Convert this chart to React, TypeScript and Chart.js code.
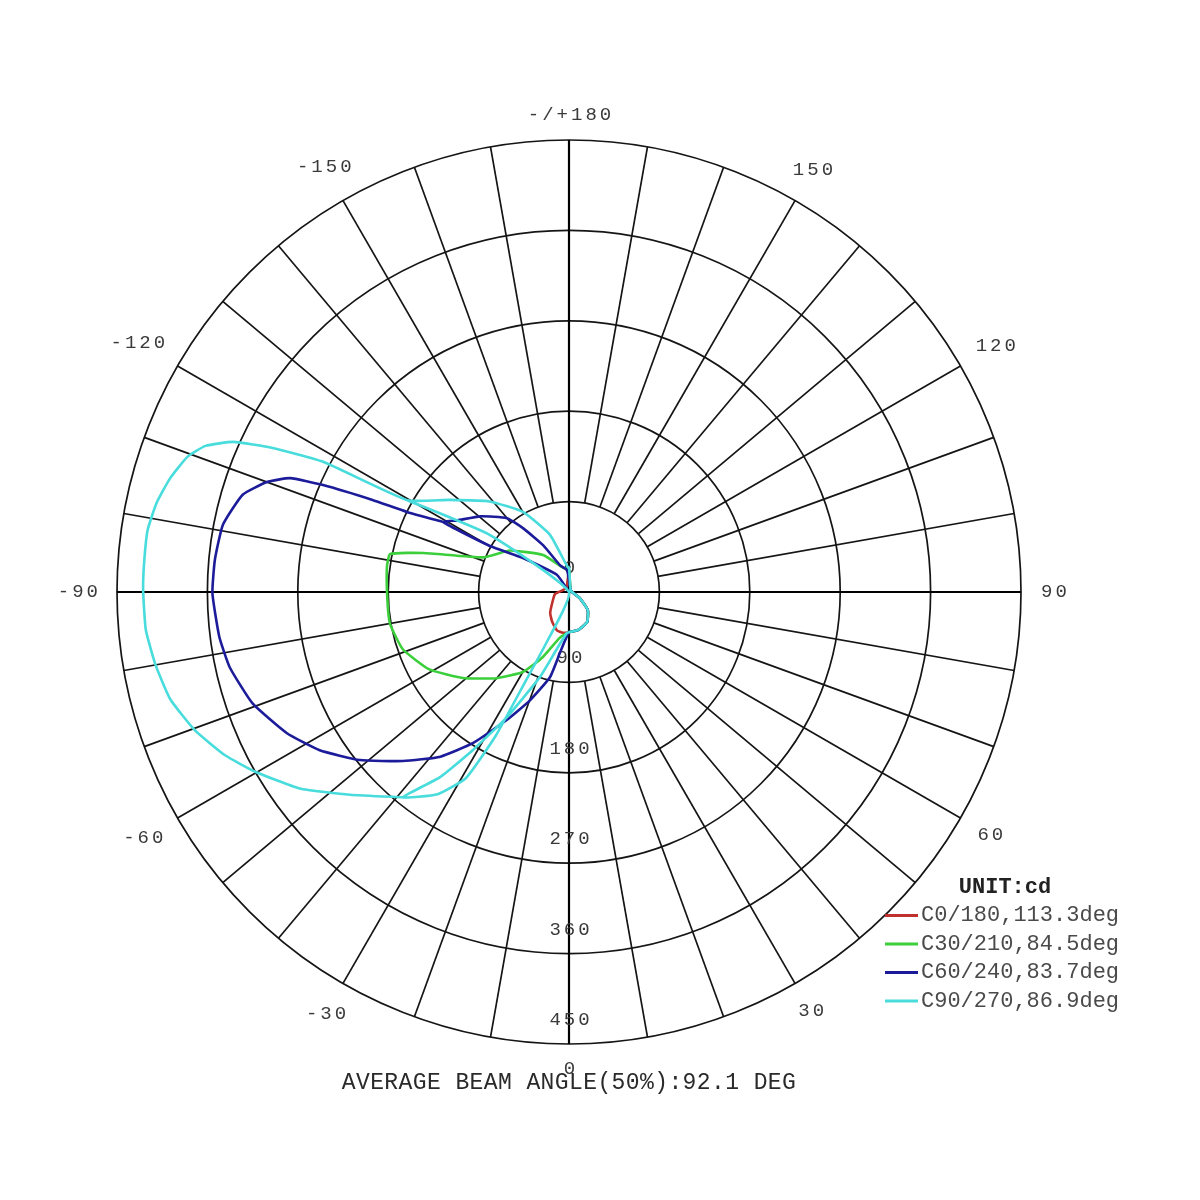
import React, { useEffect, useRef } from "react";
import { Chart, registerables } from "chart.js";

Chart.register(...registerables);

// ---- grid / axis definitions ----
const R_MAX = 450;
const RING_VALUES = [90, 180, 270, 360, 450];
const RING_LABEL_VALUES = [0, 90, 180, 270, 360, 450];
const RING_LABEL_TEXTS = ["0", "90", "180", "270", "360", "450"];
const SPOKE_STEP_DEG = 10;
const ANGLE_LABEL_ANGLES = [180, 150, 120, 90, 60, 30, 0, -30, -60, -90, -120, -150];
const ANGLE_LABEL_TEXTS = ["-/+180", "150", "120", "90", "60", "30", "0", "-30", "-60", "-90", "-120", "-150"];

// ---- legend / text ----
const SERIES_NAMES = ["C0/180,113.3deg", "C30/210,84.5deg", "C60/240,83.7deg", "C90/270,86.9deg"];
const SERIES_COLORS = ["#c0302c", "#3ccf3c", "#1c1c9a", "#48dcdc"];
const UNIT_TEXT = "UNIT:cd";
const FOOTER_TEXT = "AVERAGE BEAM ANGLE(50%):92.1 DEG";

// ---- series (angle in degrees, intensity in cd), in drawing order ----
const C0_ANGLES = [180, -150, -110, -82, -63, -42, -29.5, -17.5, -8.3, 0, 13, 31, 46, 61, 90, 150, 180];
const C0_VALUES = [22, 5, 6, 14, 18, 28, 34, 40, 41, 40, 39, 35, 26, 12, 3, 3, 22];

const C30_ANGLES = [180, -166, -145, -125, -112, -105, -102, -98, -88, -80, -71, -61, -51, -40, -30, -22, -11, 0, 13, 31, 46, 61, 90, 150, 180];
const C30_VALUES = [22, 25, 45, 72, 92, 150, 182, 183, 181, 181, 175, 159, 136, 112, 92, 70, 46, 40, 39, 35, 26, 12, 3, 3, 22];

const C60_ANGLES = [-145, -144.8, -126.5, -120.2, -119.1, -122.7, -130.5, -140, -144.3, -151.1, -161.6, -174.8, 150, 90, 61, 46, 31, 13, 0, -8.4, -12.6, -19.9, -25.8, -32.4, -38, -44.5, -51.2, -57.6, -63.4, -70.6, -77.5, -82.7, -89.8, -95.2, -101, -106.6, -110, -112.2, -113.5, -115.1, -116.3, -119.1];
const C60_VALUES = [0, 21, 57, 91, 143, 132, 116, 96, 78, 53, 28, 22, 3, 3, 12, 26, 35, 39, 40, 61, 87, 115, 141, 178, 208, 236, 267, 294, 314, 334, 346, 351, 355, 354, 351, 339, 320, 300, 267, 216, 180, 143];

const C90_ANGLES = [-119.6, -125.8, -140, -24, -26, -27, -29, -33, -39, -34.9, -31.3, -26.4, -18.8, -3, 13, 31, 46, 61, 90, 150, 180, -175.6, -161.6, -150.1, -138.7, -127.7, -119.6, -117.9, -115.9, -114.1, -111.9, -109.5, -105.9, -102.2, -98.4, -94.3, -90.3, -84.9, -80, -74.9, -69.7, -64.6, -60.2, -53.9, -47.2, -39];
const C90_VALUES = [185, 97, 0, 55, 100, 160, 212, 240, 263, 225, 184, 139, 89, 41, 39, 35, 26, 12, 3, 3, 24, 26, 60, 92, 120, 150, 185, 277, 328, 366, 390, 403, 413, 420, 424, 424, 424, 423, 418, 411, 397, 379, 360, 332, 297, 263];

const SERIES_ANGLES = [C0_ANGLES, C30_ANGLES, C60_ANGLES, C90_ANGLES];
const SERIES_VALUES = [C0_VALUES, C30_VALUES, C60_VALUES, C90_VALUES];

const FONT = "'Liberation Mono', 'DejaVu Sans Mono', monospace";
const TEXT_COLOR = "#3a3a3a";
const GRID_COLOR = "#151515";

const toRad = (d: number) => (d * Math.PI) / 180;

function toPoints(angles: number[], values: number[]) {
  return angles.map((a, i) => ({
    x: values[i] * Math.sin(toRad(a)),
    y: -values[i] * Math.cos(toRad(a)),
  }));
}

const polarPlugin = {
  id: "polarGrid",
  beforeDatasetsDraw(chart: any) {
    const { ctx } = chart;
    const xs = chart.scales.x;
    const ys = chart.scales.y;
    const cx = xs.getPixelForValue(0);
    const cy = ys.getPixelForValue(0);
    const rp = (v: number) => xs.getPixelForValue(v) - cx;
    ctx.save();
    ctx.strokeStyle = GRID_COLOR;
    ctx.lineWidth = 1.7;
    RING_VALUES.forEach((v) => {
      ctx.beginPath();
      ctx.arc(cx, cy, rp(v), 0, Math.PI * 2);
      ctx.stroke();
    });
    const r0 = rp(RING_VALUES[0]);
    const r1 = rp(R_MAX);
    for (let a = 0; a < 360; a += SPOKE_STEP_DEG) {
      if (a % 90 === 0) continue;
      const s = Math.sin(toRad(a));
      const c = Math.cos(toRad(a));
      ctx.beginPath();
      ctx.moveTo(cx + r0 * s, cy + r0 * c);
      ctx.lineTo(cx + r1 * s, cy + r1 * c);
      ctx.stroke();
    }
    ctx.strokeStyle = "#000";
    ctx.lineWidth = 2.2;
    ctx.beginPath();
    ctx.moveTo(cx - r1, cy);
    ctx.lineTo(cx + r1, cy);
    ctx.moveTo(cx, cy - r1);
    ctx.lineTo(cx, cy + r1);
    ctx.stroke();

    // radial tick labels along the lower vertical axis
    ctx.fillStyle = TEXT_COLOR;
    ctx.font = `19px ${FONT}`;
    (ctx as any).letterSpacing = "3px";
    ctx.textAlign = "center";
    ctx.textBaseline = "middle";
    RING_LABEL_VALUES.forEach((v, i) => {
      const yy = ys.getPixelForValue(-v) - 24;
      ctx.fillText(RING_LABEL_TEXTS[i], cx + 2, yy);
    });
    ctx.restore();
  },
  afterDatasetsDraw(chart: any) {
    const { ctx } = chart;
    const xs = chart.scales.x;
    const ys = chart.scales.y;
    const cx = xs.getPixelForValue(0);
    const cy = ys.getPixelForValue(0);
    const r1 = xs.getPixelForValue(R_MAX) - cx;
    ctx.save();
    ctx.fillStyle = TEXT_COLOR;
    ctx.font = `19px ${FONT}`;
    (ctx as any).letterSpacing = "3px";
    ctx.textAlign = "center";
    ctx.textBaseline = "middle";
    ANGLE_LABEL_ANGLES.forEach((a, i) => {
      const txt = ANGLE_LABEL_TEXTS[i];
      const w = ctx.measureText(txt).width;
      const s = Math.sin(toRad(a));
      const c = Math.cos(toRad(a));
      const ext = Math.abs(s) * (w / 2) + Math.abs(c) * 7;
      const d = r1 + 18 + ext;
      ctx.fillText(txt, cx + d * s + 2, cy + d * c);
    });

    // footer
    const bottom = ys.getPixelForValue(-R_MAX);
    ctx.font = `23px ${FONT}`;
    (ctx as any).letterSpacing = "0.4px";
    ctx.fillStyle = "#2a2a2a";
    ctx.fillText(FOOTER_TEXT, cx, bottom + 39);

    // legend
    const lx = 885;
    const ly = 887;
    ctx.font = `bold 22px ${FONT}`;
    (ctx as any).letterSpacing = "0px";
    ctx.fillStyle = "#222";
    ctx.textAlign = "center";
    ctx.fillText(UNIT_TEXT, 1005, ly);
    ctx.font = `22px ${FONT}`;
    ctx.textAlign = "left";
    SERIES_NAMES.forEach((name, i) => {
      const yy = ly + 28.5 * (i + 1);
      ctx.strokeStyle = SERIES_COLORS[i];
      ctx.lineWidth = 3;
      ctx.beginPath();
      ctx.moveTo(lx, yy);
      ctx.lineTo(lx + 33, yy);
      ctx.stroke();
      ctx.fillStyle = "#4a4a4a";
      ctx.fillText(name, lx + 36, yy);
    });
    ctx.restore();
  },
};

export default function App() {
  const canvasRef = useRef<HTMLCanvasElement | null>(null);

  useEffect(() => {
    if (!canvasRef.current) return;
    const datasets = SERIES_NAMES.map((name, i) => ({
      label: name,
      data: toPoints(SERIES_ANGLES[i], SERIES_VALUES[i]),
      showLine: true,
      borderColor: SERIES_COLORS[i],
      backgroundColor: SERIES_COLORS[i],
      borderWidth: 2.6,
      pointRadius: 0,
      tension: 0.15,
      fill: false,
      order: SERIES_NAMES.length - i,
    }));
    const chart = new Chart(canvasRef.current, {
      type: "scatter",
      data: { datasets },
      options: {
        animation: false,
        responsive: false,
        layout: { padding: { left: 117, right: 179, top: 140, bottom: 156 } },
        scales: {
          x: { type: "linear", min: -R_MAX, max: R_MAX, display: false },
          y: { type: "linear", min: -R_MAX, max: R_MAX, display: false },
        },
        plugins: { legend: { display: false }, tooltip: { enabled: false } },
      },
      plugins: [polarPlugin],
    } as any);
    return () => chart.destroy();
  }, []);

  return (
    <div style={{ position: "absolute", left: 0, top: 0, width: 1200, height: 1200, background: "#fff" }}>
      <canvas ref={canvasRef} width={1200} height={1200} style={{ display: "block" }} />
    </div>
  );
}
